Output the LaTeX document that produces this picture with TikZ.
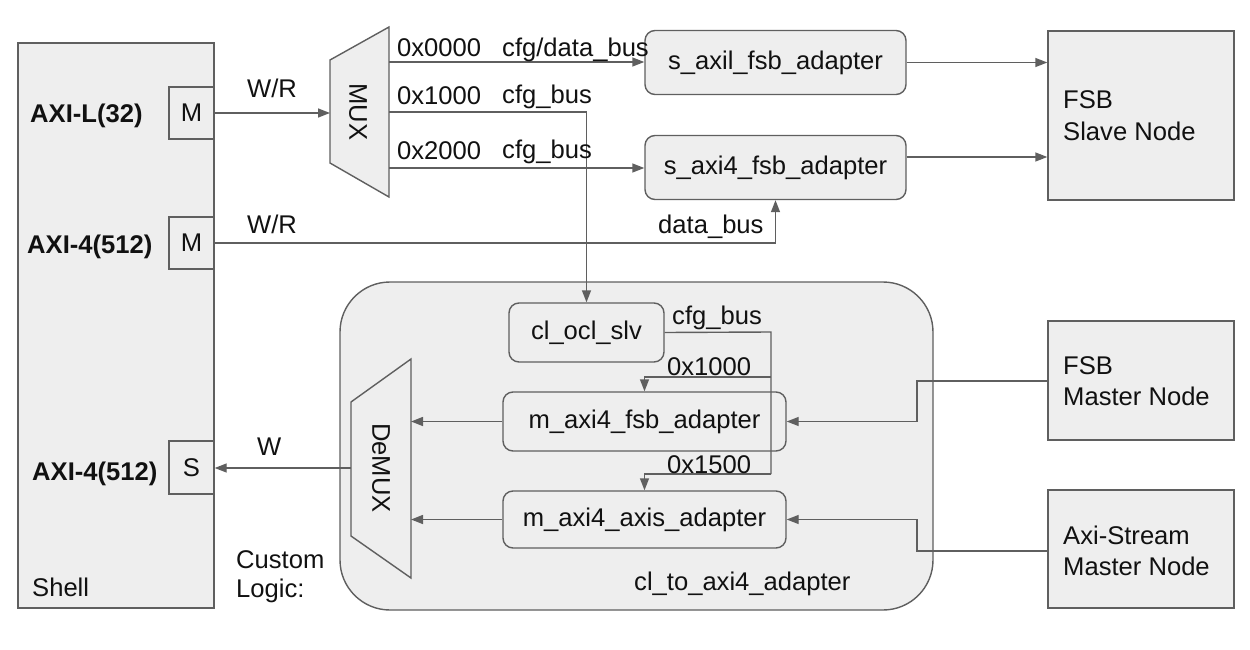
\documentclass[tikz,border=0pt]{standalone}
\usepackage{fontspec}
\setmainfont{Liberation Sans}
\usetikzlibrary{arrows.meta,calc}
\definecolor{fillc}{HTML}{EEEEEE}
\definecolor{linec}{HTML}{5F5F5F}
\definecolor{txtc}{HTML}{111111}
\begin{document}
\begin{tikzpicture}[x=1pt,y=-1pt,
  every node/.style={font=\fontsize{25.6}{30}\selectfont, text=txtc, inner sep=0pt},
  box/.style={draw=linec, fill=fillc, line width=1.4pt},
  rbox/.style={box, rounded corners=10pt},
  conn/.style={draw=linec, line width=1.4pt},
  arr/.style={conn, -{Triangle[length=12pt,width=9pt]}},
  lbl/.style={anchor=base west},
  bold/.style={anchor=base west, font=\fontsize{25.6}{30}\selectfont\bfseries}]
\useasboundingbox (0,0) rectangle (1250,650);

% Shell
\node[box, minimum width=196pt, minimum height=565pt] (shell) at (116,325.5) {};
\node[lbl] (shelllbl) at (32,596) {Shell};
\node[box, minimum width=45pt, minimum height=52pt] (m1) at (191.5,113) {M};
\node[box, minimum width=45pt, minimum height=52pt] (m2) at (191.5,243) {M};
\node[box, minimum width=45pt, minimum height=53pt] (s1) at (191.5,467.5) {S};
\node[bold] (axil) at (30,123) {AXI-L(32)};
\node[bold] (axi4a) at (27,253) {AXI-4(512)};
\node[bold] (axi4b) at (32,480) {AXI-4(512)};

% Custom logic container
\node[box, rounded corners=50pt, minimum width=593pt, minimum height=328pt] (cl) at (636.5,446) {};
\node[lbl] (cl2axi) at (634,590) {cl\_to\_axi4\_adapter};
\node[lbl] (custom) at (236,568) {Custom};
\node[lbl] (logic) at (236,597) {Logic:};

% MUX
\draw[box] (330,60) -- (389,27) -- (389,197) -- (330,163) -- cycle;
\node[rotate=-90] (muxlbl) at (358,112) {MUX};
\coordinate (muxin) at (330,113);
\coordinate (mux0) at (389,62);
\coordinate (mux1) at (389,112);
\coordinate (mux2) at (389,168);

% DeMUX
\draw[box] (411,359) -- (411,578) -- (351,536) -- (351,402) -- cycle;
\node[rotate=-90] (demuxlbl) at (381,468) {DeMUX};
\coordinate (demuxout) at (351,468);
\coordinate (demuxa) at (411,421.5);
\coordinate (demuxb) at (411,519.5);

% adapters
\node[rbox, minimum width=261pt, minimum height=64pt] (saxil) at (775.5,62.5) {s\_axil\_fsb\_adapter};
\node[rbox, minimum width=261pt, minimum height=64pt] (saxi4) at (775.5,167.5) {s\_axi4\_fsb\_adapter};
\node[rbox, minimum width=155pt, minimum height=59pt] (ocl) at (586.5,332.5) {cl\_ocl\_slv};
\node[rbox, minimum width=283pt, minimum height=59pt] (mfsb) at (644.5,421.5) {m\_axi4\_fsb\_adapter};
\node[rbox, minimum width=283pt, minimum height=57pt] (maxis) at (644.5,519.5) {m\_axi4\_axis\_adapter};

% right nodes
\node[box, minimum width=186pt, minimum height=169pt] (fsbs) at (1141,115.5) {};
\node[lbl] (fsbs1) at (1063,109) {FSB};
\node[lbl] (fsbs2) at (1063,140) {Slave Node};
\node[box, minimum width=186pt, minimum height=119pt] (fsbm) at (1141,380.5) {};
\node[lbl] (fsbm1) at (1063,374) {FSB};
\node[lbl] (fsbm2) at (1063,405) {Master Node};
\node[box, minimum width=186pt, minimum height=118pt] (axs) at (1141,549) {};
\node[lbl] (axs1) at (1063,544) {Axi-Stream};
\node[lbl] (axs2) at (1063,575) {Master Node};

% connectors top
\draw[arr] (m1.east) -- (muxin);
\node[lbl] (wr1) at (247,98) {W/R};
\draw[arr] (mux0) -- (saxil.west |- mux0);
\node[lbl] (a0) at (397,57) {0x0000};
\node[lbl] (b0) at (502,57) {cfg/data\_bus};
\draw[arr] (mux1) -| (ocl.north);
\node[lbl] (a1) at (397,105) {0x1000};
\node[lbl] (b1) at (502,104) {cfg\_bus};
\draw[arr] (mux2) -- (saxi4.west |- mux2);
\node[lbl] (a2) at (397,160) {0x2000};
\node[lbl] (b2) at (502,158) {cfg\_bus};
\draw[arr] (m2.east) -| (saxi4.south);
\node[lbl] (wr2) at (247,233) {W/R};
\node[lbl] (dbus) at (658,233) {data\_bus};

\draw[arr] (saxil.east) -- (fsbs.west |- saxil.east);
\coordinate (y157) at (0,157);
\draw[arr] (saxi4.east |- y157) -- (fsbs.west |- y157);

% inside custom logic
\coordinate (vx) at (771,332);
\coordinate (br1) at (771,377);
\coordinate (br2) at (771,474);
\draw[conn] (ocl.east) -- (vx) -- (br2);
\draw[arr] (br1) -| (mfsb.north);
\draw[arr] (br2) -| (maxis.north);
\node[lbl] (ocfg) at (672,324) {cfg\_bus};
\node[lbl] (o1000) at (667,375) {0x1000};
\node[lbl] (o1500) at (667,473) {0x1500};

\draw[arr] (mfsb.west) -- (demuxa);
\draw[arr] (maxis.west) -- (demuxb);
\draw[arr] (demuxout) -- (s1.east |- demuxout);
\node[lbl] (wlbl) at (257,455) {W};

\coordinate (jx1) at (917,381);
\coordinate (jx2) at (917,551);
\draw[arr] (fsbm.west |- jx1) -- (jx1) |- (mfsb.east);
\draw[arr] (axs.west |- jx2) -- (jx2) |- (maxis.east);
\end{tikzpicture}
\end{document}
